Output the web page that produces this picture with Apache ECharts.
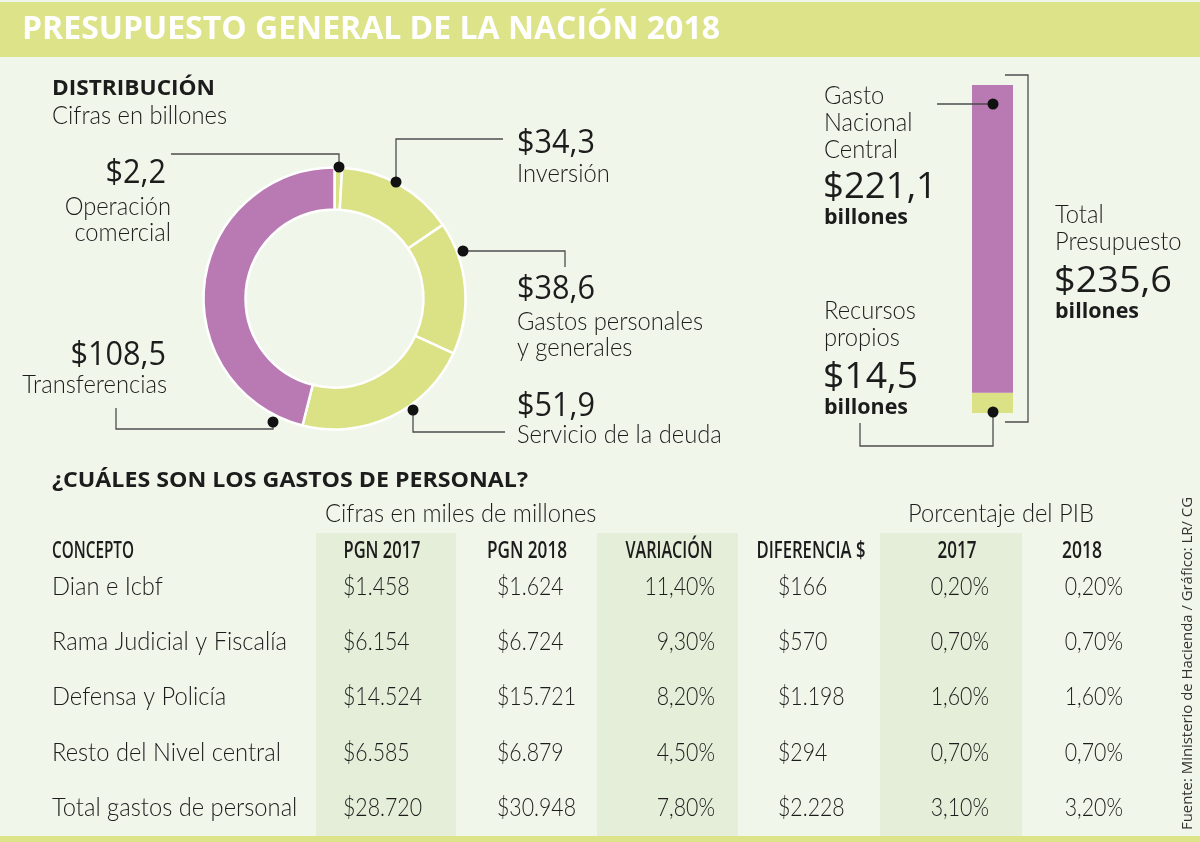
<!DOCTYPE html>
<html><head><meta charset="utf-8">
<script src="https://cdn.jsdelivr.net/npm/echarts@6/dist/echarts.min.js"></script>
<style>html,body{margin:0;padding:0;background:#f1f6eb}#c{width:1200px;height:842px}</style>
</head><body><div id="c"></div>
<script>
// ---------------- DATA ----------------
const TITLE = 'PRESUPUESTO GENERAL DE LA NACIÓN 2018';
const DIST_LABELS = ['Operación\ncomercial', 'Inversión', 'Gastos personales\ny generales', 'Servicio de la deuda', 'Transferencias'];
const DIST_VALUES = [2.2, 34.3, 38.6, 51.9, 108.5];
const BUDGET_LABELS = ['Recursos\npropios', 'Gasto\nNacional\nCentral'];
const BUDGET_VALUES = [14.5, 221.1];
const BUDGET_TOTAL = 235.6;
const TABLE_HEADERS = ['CONCEPTO', 'PGN 2017', 'PGN 2018', 'VARIACIÓN', 'DIFERENCIA $', '2017', '2018'];
const TABLE_ROWS = ['Dian e Icbf', 'Rama Judicial y Fiscalía', 'Defensa y Policía', 'Resto del Nivel central', 'Total gastos de personal'];
const PGN_2017 = [1458, 6154, 14524, 6585, 28720];
const PGN_2018 = [1624, 6724, 15721, 6879, 30948];
const VARIACION = [11.4, 9.3, 8.2, 4.5, 7.8];
const DIFERENCIA = [166, 570, 1198, 294, 2228];
const PIB_2017 = [0.2, 0.7, 1.6, 0.7, 3.1];
const PIB_2018 = [0.2, 0.7, 1.6, 0.7, 3.2];

// ---------------- HELPERS ----------------
const PURPLE = '#b97ab3', GREEN = '#dbe286', BG = '#f1f6eb', BAND = '#e5eed8', INK = '#1c1c1c', LINE = '#4d4d4d';
const FF = "'Open Sans', 'Noto Sans', sans-serif";
const LF = "Lato, 'Open Sans', sans-serif";
const mctx = document.createElement('canvas').getContext('2d');
function fontStr(size, weight, fam) { return weight + ' ' + size + 'px ' + (fam || FF); }
function mw(text, font) { mctx.font = font; return mctx.measureText(text).width; }
const money1 = v => '$' + v.toFixed(1).replace('.', ',');
const thousands = v => '$' + String(v).replace(/\B(?=(\d{3})+(?!\d))/g, '.');
const pct = v => v.toFixed(2).replace('.', ',') + '%';

const LK = 175 / mw('Cifras en billones', fontStr(25, 300, LF));  // light text condense factor
const TK = 79 / mw('$14.524', fontStr(25, 300, LF));              // light numbers condense factor
const NK = 78 / mw('$34,3', fontStr(33, 400));                     // big number condense factor

const G = [];
function txt(text, x, y, size, weight, o) {
  o = o || {};
  const fam = o.light ? LF : FF;
  const font = fontStr(size, weight, fam);
  const lines = text.split('\n');
  const lh = o.lh || size * 1.1;
  let sx = o.sx || 1;
  if (o.w) sx = o.w / mw(lines[0], font);
  G.push({ type: 'text', x: x, y: y + (lines.length - 1) * lh / 2, scaleX: sx, silent: true, z: 20,
    style: { text: text, font: font, fill: o.fill || INK, align: o.align || 'left',
             verticalAlign: 'middle', lineHeight: lh } });
}
function light(text, x, y, o) { o = o || {}; o.light = true; o.sx = o.sx || LK; txt(text, x, y, 25, 300, o); }
function poly(pts) {
  G.push({ type: 'polyline', silent: true, z: 15, shape: { points: pts },
    style: { stroke: LINE, lineWidth: 1.3, fill: null } });
}
function dot(x, y) {
  G.push({ type: 'circle', silent: true, z: 30, shape: { cx: x, cy: y, r: 5.5 }, style: { fill: '#111' } });
}
function rect(x, y, w, h, fill, z) {
  G.push({ type: 'rect', silent: true, z: z || 1, shape: { x: x, y: y, width: w, height: h }, style: { fill: fill } });
}

// ---------------- STATIC LAYOUT ----------------
rect(0, 2, 1200, 55, '#dce388', 1);
rect(0, 836, 1200, 6, '#dce388', 1);
txt(TITLE, 22, 30, 33, 'bold', { fill: '#ffffff', w: 698 });

txt('DISTRIBUCIÓN', 52, 89, 21, 'bold', { w: 163 });
light('Cifras en billones', 52, 116);

// Donut callouts (text)
const CALL = [
  { ax: 'right', nx: 166, ny: 174, lx: 171, ly: 207 },
  { ax: 'left', nx: 517, ny: 144, lx: 517, ly: 174 },
  { ax: 'left', nx: 517, ny: 290, lx: 517, ly: 322 },
  { ax: 'left', nx: 517, ny: 407, lx: 517, ly: 435 },
  { ax: 'right', nx: 166, ny: 356, lx: 167, ly: 385 }
];
DIST_VALUES.forEach((v, i) => {
  const c = CALL[i];
  txt(money1(v), c.nx, c.ny, 33, 400, { sx: NK, align: c.ax });
  light(DIST_LABELS[i], c.lx, c.ly, { align: c.ax, lh: 26 });
});
// Donut leader lines
poly([[171, 154], [339, 154], [339, 167]]); dot(339, 167);
poly([[396, 182], [396, 139], [503, 139]]); dot(396, 182);
poly([[463, 251], [565, 251], [565, 267]]); dot(463, 251);
poly([[413, 410], [413, 432], [505, 432]]); dot(413, 410);
poly([[116, 408], [116, 429], [273, 429], [273, 422]]); dot(273, 422);

// Budget bar callouts
light(BUDGET_LABELS[1], 824, 96, { lh: 27 });
txt(money1(BUDGET_VALUES[1]), 823, 188, 36, 400, { w: 114 });
txt('billones', 824, 218, 21, 'bold', { w: 84 });
light(BUDGET_LABELS[0], 824, 311, { lh: 27 });
txt(money1(BUDGET_VALUES[0]), 823, 378, 36, 400, { w: 95 });
txt('billones', 824, 408, 21, 'bold', { w: 84 });
light('Total\nPresupuesto', 1055, 215, { lh: 27 });
txt(money1(BUDGET_TOTAL), 1054, 282, 36, 400, { w: 118 });
txt('billones', 1055, 312, 21, 'bold', { w: 84 });
poly([[937, 104], [993, 104]]); dot(993, 104);
poly([[860, 423], [860, 446], [993, 446], [993, 412]]); dot(993, 412);
poly([[1005, 75], [1028, 75], [1028, 422], [1005, 422]]);

// Table
txt('¿CUÁLES SON LOS GASTOS DE PERSONAL?', 52, 481, 22, 'bold', { w: 476 });
light('Cifras en miles de millones', 325, 514);
light('Porcentaje del PIB', 908, 514);
rect(316, 533, 140, 303, BAND, 2);
rect(597, 533, 141, 303, BAND, 2);
rect(880, 533, 142, 303, BAND, 2);
const HDR = [
  { x: 52, a: 'left', w: 82 }, { x: 382, a: 'center', w: 77 }, { x: 527, a: 'center', w: 80 },
  { x: 669, a: 'center', w: 87 }, { x: 811, a: 'center', w: 109 }, { x: 957, a: 'center', w: 39 }, { x: 1082, a: 'center', w: 40 }
];
TABLE_HEADERS.forEach((h, i) => txt(h, HDR[i].x, 551, 23, 600, { w: HDR[i].w, align: HDR[i].a }));
const COLS = [
  { x: 52, a: 'left', f: s => s, d: TABLE_ROWS, k: LK },
  { x: 343, a: 'left', f: thousands, d: PGN_2017, k: TK },
  { x: 497, a: 'left', f: thousands, d: PGN_2018, k: TK },
  { x: 715, a: 'right', f: pct, d: VARIACION, k: TK },
  { x: 778, a: 'left', f: thousands, d: DIFERENCIA, k: TK },
  { x: 989, a: 'right', f: pct, d: PIB_2017, k: TK },
  { x: 1123, a: 'right', f: pct, d: PIB_2018, k: TK }
];
const ROW_Y = [587, 642, 697, 753, 808];
COLS.forEach(c => c.d.forEach((v, r) => light(c.f(v), c.x, ROW_Y[r], { align: c.a, sx: c.k })));

// Source (vertical)
const SRC = 'Fuente: Ministerio de Hacienda / Gráfico: LR/ CG';
G.push({ type: 'text', x: 1188, y: 830, rotation: Math.PI / 2, silent: true, z: 20,
  scaleX: 333 / mw(SRC, fontStr(14, 400)),
  style: { text: SRC, font: fontStr(14, 400), fill: '#333', align: 'left', verticalAlign: 'middle' } });

// ---------------- CHART ----------------
const chart = echarts.init(document.getElementById('c'), null, { renderer: 'canvas' });
chart.setOption({
  backgroundColor: BG,
  animation: false,
  grid: { left: 972, top: 85, width: 41, height: 328 },
  xAxis: { type: 'category', data: ['Total'], show: false },
  yAxis: { type: 'value', min: 0, max: BUDGET_TOTAL, show: false },
  series: [
    {
      type: 'pie', center: [334.5, 298.5], radius: [89, 131], startAngle: 90, clockwise: true,
      silent: true, label: { show: false }, labelLine: { show: false },
      itemStyle: { borderColor: '#ffffff', borderWidth: 2.5 },
      data: DIST_VALUES.map((v, i) => ({ value: v, name: DIST_LABELS[i].replace('\n', ' '),
        itemStyle: { color: i === 4 ? PURPLE : GREEN } }))
    },
    { type: 'bar', name: BUDGET_LABELS[0].replace('\n', ' '), stack: 'b', barWidth: '100%', silent: true,
      itemStyle: { color: GREEN }, data: [BUDGET_VALUES[0]] },
    { type: 'bar', name: BUDGET_LABELS[1].replace(/\n/g, ' '), stack: 'b', barWidth: '100%', silent: true,
      itemStyle: { color: PURPLE }, data: [BUDGET_VALUES[1]] }
  ],
  graphic: { elements: G }
});
</script></body></html>
